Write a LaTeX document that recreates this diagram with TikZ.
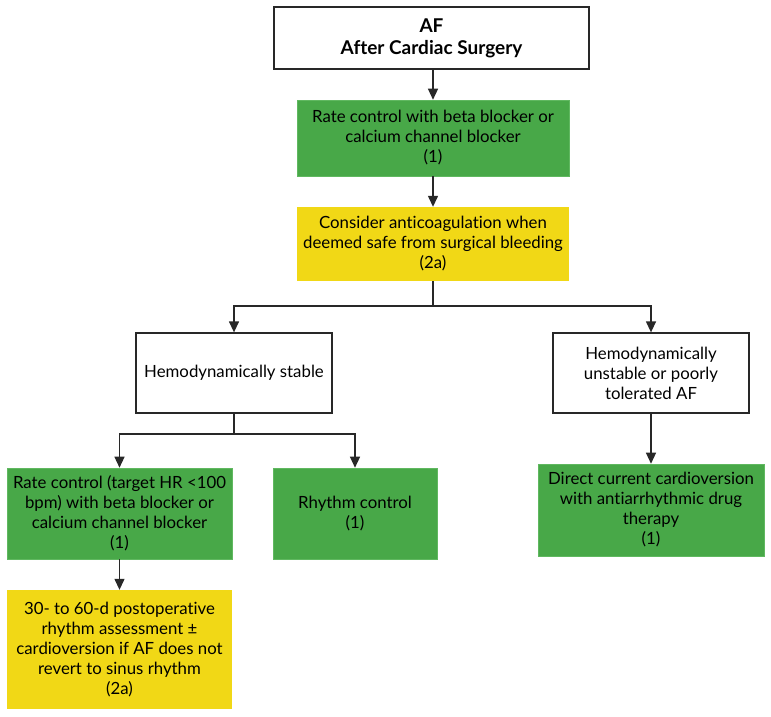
\documentclass[tikz,border=0pt]{standalone}
\usepackage{fontspec}
\setmainfont{Lato}[Ligatures=NoCommon]
\usetikzlibrary{arrows.meta}
\definecolor{boxgreen}{RGB}{72,168,72}
\definecolor{boxgreenline}{RGB}{96,184,96}
\definecolor{boxyellow}{RGB}{241,216,22}
\definecolor{lineclr}{RGB}{40,40,40}
\begin{document}
\begin{tikzpicture}[x=1pt,y=-1pt,
  base/.style={align=center,inner sep=2pt,font=\fontsize{16.8}{20}\selectfont,text=black},
  whitebox/.style={base,draw=lineclr,line width=1.3pt,fill=white},
  greenbox/.style={base,draw=boxgreenline,line width=0.6pt,fill=boxgreen},
  yellowbox/.style={base,fill=boxyellow},
  conn/.style={draw=lineclr,line width=1.3pt},
  arr/.style={conn,-{Triangle[length=11pt,width=10pt]}}]
\useasboundingbox (0,0) rectangle (771,716);
\fill[white] (0,0) rectangle (771,716);

\node[whitebox,minimum width=315pt,minimum height=62pt,font=\bfseries\fontsize{19}{22}\selectfont] (top) at (431.5,38) {\raisebox{-3pt}{AF}\\\raisebox{-3pt}{After Cardiac Surgery}};
\node[greenbox,minimum width=272pt,minimum height=76pt] (g1) at (433,138) {Rate control with beta blocker or\\calcium channel blocker\\(1)};
\node[yellowbox,minimum width=272pt,minimum height=74pt] (y1) at (433,244) {Consider anticoagulation when\\deemed safe from surgical bleeding\\(2a)};
\node[whitebox,minimum width=196pt,minimum height=80pt] (hs) at (234,373) {Hemodynamically stable};
\node[whitebox,minimum width=196pt,minimum height=80pt] (hu) at (651,373) {Hemodynamically\\unstable or poorly\\tolerated AF};
\node[greenbox,minimum width=225pt,minimum height=91pt] (rc) at (119.5,513.5) {Rate control (target HR <100\\bpm) with beta blocker or\\calcium channel blocker\\(1)};
\node[greenbox,minimum width=164pt,minimum height=91pt] (rh) at (355,513.5) {Rhythm control\\(1)};
\node[greenbox,minimum width=226pt,minimum height=92pt] (dc) at (651,510) {Direct current cardioversion\\with antiarrhythmic drug\\therapy\\(1)};
\node[yellowbox,minimum width=225pt,minimum height=119pt] (y2) at (119.5,649.5) {30- to 60-d postoperative\\rhythm assessment ±\\cardioversion if AF does not\\revert to sinus rhythm\\(2a)};

\coordinate (j1) at (433,306);
\coordinate (j2) at (234,434);

\draw[arr] (top.south -| g1.north) -- (g1.north);
\draw[arr] (g1.south) -- (y1.north);
\draw[conn] (y1.south) -- (j1);
\draw[arr] (j1) -| (hs.north);
\draw[arr] (j1) -| (hu.north);
\draw[conn] (hs.south) -- (j2);
\draw[arr] (j2) -| (rc.north);
\draw[arr] (j2) -| (rh.north);
\draw[arr] (hu.south) -- (dc.north);
\draw[arr] (rc.south) -- (y2.north);
\end{tikzpicture}
\end{document}
